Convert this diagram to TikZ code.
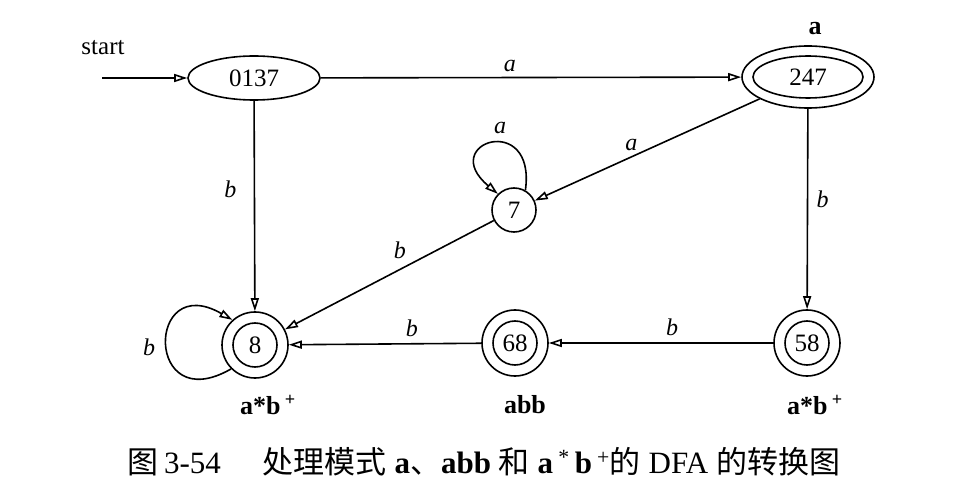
\documentclass[tikz,border=0pt]{standalone}
\usepackage{fontspec}
\setmainfont{Liberation Serif}
\newfontfamily\cjk{Noto Sans CJK SC}
\usetikzlibrary{arrows.meta,shapes.geometric}
\begin{document}
\begin{tikzpicture}[x=1pt,y=1pt,line width=1.6pt,
  arr/.style={-{Triangle[open,length=13pt,width=8pt]}},
  st/.style={draw,circle,inner sep=0pt,minimum size=44pt,font=\fontsize{25}{28}\selectfont},
  stout/.style={draw,circle,inner sep=0pt,minimum size=66pt},
  ell/.style={draw,ellipse,inner sep=0pt,font=\fontsize{25}{28}\selectfont},
  lab/.style={font=\fontsize{24}{28}\selectfont\itshape},
  acc/.style={font=\fontsize{26}{28}\selectfont\bfseries}]
\useasboundingbox (0,0) rectangle (962,496);
% states
\node[ell,minimum width=132pt,minimum height=44pt] (s0137) at (254,418) {0137};
\node[draw,ellipse,minimum width=132pt,minimum height=62pt] (s247) at (808,419) {};
\node[ell,minimum width=110pt,minimum height=42pt] (s247in) at (808,419) {247};
\node[st] (s7) at (514,286) {7};
\node[stout] (s8) at (255,151) {};
\node[st] (s8in) at (255,151) {8};
\node[stout] (s68) at (515,153) {};
\node[st] (s68in) at (515,153) {68};
\node[stout] (s58) at (807,153) {};
\node[st] (s58in) at (807,153) {58};
% start
\node[font=\fontsize{25}{28}\selectfont] (startlab) at (103,448) {start};
\coordinate (startpt) at (102,418);
\draw[arr] (startpt) -- (s0137);
% accepting labels
\node[acc] (acc8) at (268,91) {a*b\,\textsuperscript{+}};
\node[acc] (acc68) at (525,91) {abb};
\node[acc] (acc58) at (815,91) {a*b\,\textsuperscript{+}};
\node[acc] (acc247) at (815,467) {a};
% edges
\draw[arr] (s0137) -- (s247) node[lab,pos=0.45,above=2pt] {a};
\draw[arr] (s247) -- (s7) node[lab,pos=0.57,above=2pt] {a};
\draw[arr] (s7.60) .. controls +(82:80) and +(140:80) .. (s7.135);
\node[lab] (la7) at (500,368) {a};
\draw[arr] (s0137) -- (s8) node[lab,pos=0.42,left=14pt] {b};
\draw[arr] (s7) -- (s8) node[lab,pos=0.45,above=7pt] {b};
\draw[arr] (s247) -- (s58) node[lab,pos=0.45,right=5pt] {b};
\draw[arr] (s58) -- (s68) node[lab,pos=0.45,above=3pt] {b};
\draw[arr] (s68) -- (s8) node[lab,pos=0.36,above=3pt] {b};
\draw[arr] (s8.225) .. controls +(210:100) and +(150:100) .. (s8.132);
\node[lab] (lb8) at (149,149) {b};
% caption
\node[font=\fontsize{31}{34}\selectfont] (cap) at (484,34) {{\cjk 图}\,3-54\hspace{42pt}{\cjk 处理模式} {\bfseries a}{\cjk 、}{\bfseries abb} {\cjk 和} {\bfseries a}\,\textsuperscript{*}\,{\bfseries b}\,\textsuperscript{+}{\cjk 的} DFA {\cjk 的转换图}};
\end{tikzpicture}
\end{document}
